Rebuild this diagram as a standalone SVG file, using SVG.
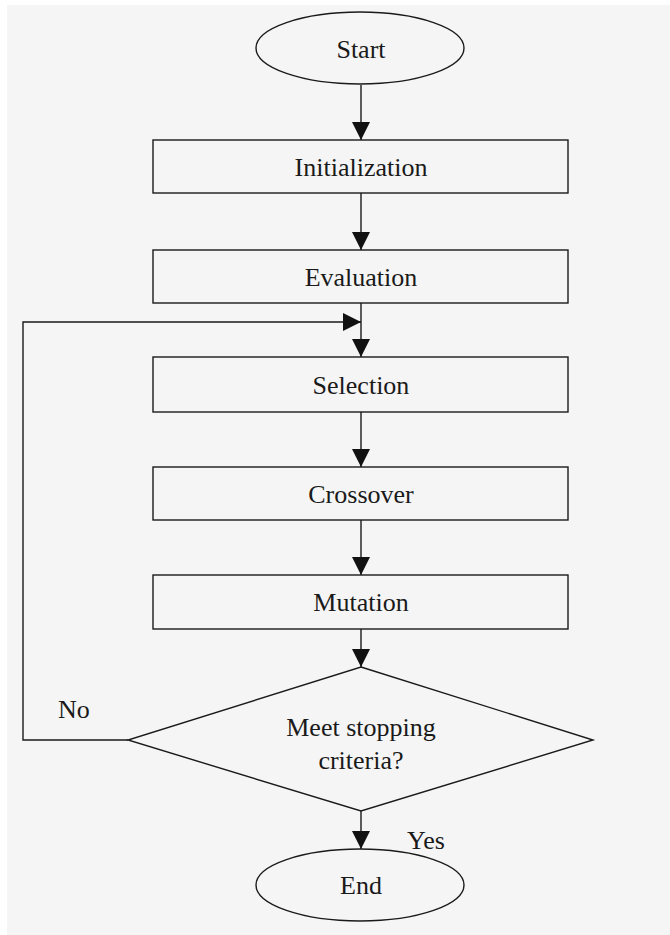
<svg xmlns="http://www.w3.org/2000/svg" width="670" height="935" viewBox="0 0 670 935">
  <style>
    .shape { fill: none; stroke: #1a1a1a; stroke-width: 1.4; }
    .line { fill: none; stroke: #1a1a1a; stroke-width: 1.4; }
    text { font-size: 26px; fill: #1a1a1a; }
    .label { text-anchor: middle; }
  </style>
  <defs>
    <marker id="arrow" viewBox="0 0 18 18" refX="18" refY="9" markerWidth="18" markerHeight="18" markerUnits="userSpaceOnUse" orient="auto">
      <path d="M0,0 L18,9 L0,18 Z" fill="#111"/>
    </marker>
  </defs>

  <rect x="0" y="0" width="670" height="935" fill="#ffffff"/>
  <rect x="7" y="5" width="663" height="930" fill="#f5f5f5"/>

  <g font-family="Liberation Serif, Times New Roman, serif">
    <g id="connectors">
      <line class="line" x1="361" y1="85" x2="361" y2="140" marker-end="url(#arrow)"/>
      <line class="line" x1="361" y1="193" x2="361" y2="250" marker-end="url(#arrow)"/>
      <line class="line" x1="361" y1="303" x2="361" y2="357" marker-end="url(#arrow)"/>
      <line class="line" x1="361" y1="412" x2="361" y2="467" marker-end="url(#arrow)"/>
      <line class="line" x1="361" y1="520" x2="361" y2="575" marker-end="url(#arrow)"/>
      <line class="line" x1="361" y1="629" x2="361" y2="667" marker-end="url(#arrow)"/>
      <line class="line" x1="361" y1="811" x2="361" y2="849" marker-end="url(#arrow)"/>
      <polyline class="line" points="128,740 23,740 23,322 361,322" marker-end="url(#arrow)"/>
      <text x="58" y="718">No</text>
      <text x="407" y="849">Yes</text>
    </g>

    <g id="start">
      <ellipse class="shape" cx="360" cy="48" rx="104" ry="36"/>
      <text class="label" x="361" y="58">Start</text>
    </g>

    <g id="initialization">
      <rect class="shape" x="153" y="140" width="415" height="53"/>
      <text class="label" x="361" y="176">Initialization</text>
    </g>

    <g id="evaluation">
      <rect class="shape" x="153" y="250" width="415" height="53"/>
      <text class="label" x="361" y="286">Evaluation</text>
    </g>

    <g id="selection">
      <rect class="shape" x="153" y="357" width="415" height="55"/>
      <text class="label" x="361" y="394">Selection</text>
    </g>

    <g id="crossover">
      <rect class="shape" x="153" y="467" width="415" height="53"/>
      <text class="label" x="361" y="503">Crossover</text>
    </g>

    <g id="mutation">
      <rect class="shape" x="153" y="575" width="415" height="54"/>
      <text class="label" x="361" y="611">Mutation</text>
    </g>

    <g id="decision">
      <polygon class="shape" points="361,667 593,740 361,811 128,740"/>
      <text class="label" x="361" y="736">Meet stopping</text>
      <text class="label" x="361" y="769">criteria?</text>
    </g>

    <g id="end">
      <ellipse class="shape" cx="360" cy="885" rx="104" ry="36"/>
      <text class="label" x="361" y="894">End</text>
    </g>
  </g>
</svg>
